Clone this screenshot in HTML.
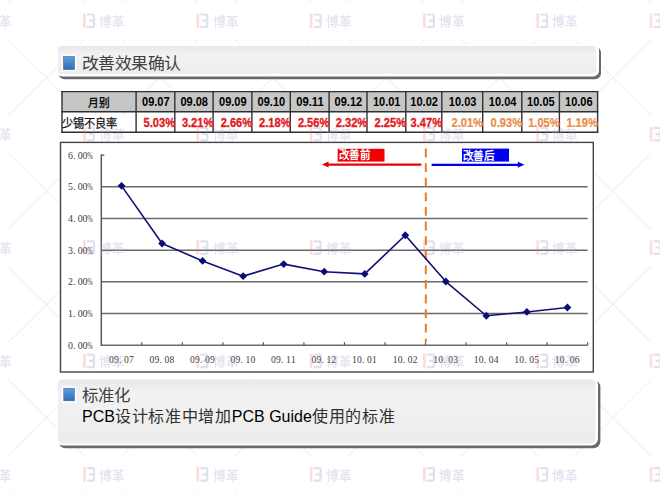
<!DOCTYPE html>
<html lang="zh-CN"><head><meta charset="utf-8">
<style>
html,body{margin:0;padding:0;background:#fff;width:660px;height:495px;overflow:hidden}
svg{position:absolute;left:0;top:0}
.sans{font-family:"Liberation Sans",sans-serif}
.serif{font-family:"Liberation Serif",serif}
.mono{font-family:"Liberation Mono",monospace}
</style></head><body>
<svg width="660" height="495" viewBox="0 0 660 495">
<defs>
<linearGradient id="gbox" x1="0" y1="0" x2="0" y2="1">
<stop offset="0" stop-color="#e8e8e8"/>
<stop offset="0.3" stop-color="#f2f2f2"/>
<stop offset="1" stop-color="#ececec"/>
</linearGradient>
<linearGradient id="gbox2" x1="0" y1="0" x2="0" y2="1">
<stop offset="0" stop-color="#e8e8e8"/>
<stop offset="0.2" stop-color="#f2f2f2"/>
<stop offset="1" stop-color="#ececec"/>
</linearGradient>
<linearGradient id="gblue" x1="0" y1="0" x2="0" y2="1">
<stop offset="0" stop-color="#5f9fdc"/>
<stop offset="1" stop-color="#2f6cb4"/>
</linearGradient>
<filter id="blur1" x="-5%" y="-20%" width="110%" height="140%"><feGaussianBlur stdDeviation="0.7"/></filter>
</defs>

<path d="M8.4 -73.7L84.3 2.3M8.4 2.3L84.3 -73.7M121.7 -73.7L197.7 2.3M121.7 2.3L197.7 -73.7M234.9 -73.7L310.9 2.3M234.9 2.3L310.9 -73.7M348.2 -73.7L424.2 2.3M348.2 2.3L424.2 -73.7M461.5 -73.7L537.5 2.3M461.5 2.3L537.5 -73.7M574.9 -73.7L650.9 2.3M574.9 2.3L650.9 -73.7M688.1 -73.7L764.1 2.3M688.1 2.3L764.1 -73.7M801.4 -73.7L877.4 2.3M801.4 2.3L877.4 -73.7M8.4 39.7L84.3 115.7M8.4 115.7L84.3 39.7M121.7 39.7L197.7 115.7M121.7 115.7L197.7 39.7M234.9 39.7L310.9 115.7M234.9 115.7L310.9 39.7M348.2 39.7L424.2 115.7M348.2 115.7L424.2 39.7M461.5 39.7L537.5 115.7M461.5 115.7L537.5 39.7M574.9 39.7L650.9 115.7M574.9 115.7L650.9 39.7M688.1 39.7L764.1 115.7M688.1 115.7L764.1 39.7M801.4 39.7L877.4 115.7M801.4 115.7L877.4 39.7M8.4 153.1L84.3 229.1M8.4 229.1L84.3 153.1M121.7 153.1L197.7 229.1M121.7 229.1L197.7 153.1M234.9 153.1L310.9 229.1M234.9 229.1L310.9 153.1M348.2 153.1L424.2 229.1M348.2 229.1L424.2 153.1M461.5 153.1L537.5 229.1M461.5 229.1L537.5 153.1M574.9 153.1L650.9 229.1M574.9 229.1L650.9 153.1M688.1 153.1L764.1 229.1M688.1 229.1L764.1 153.1M801.4 153.1L877.4 229.1M801.4 229.1L877.4 153.1M8.4 266.5L84.3 342.5M8.4 342.5L84.3 266.5M121.7 266.5L197.7 342.5M121.7 342.5L197.7 266.5M234.9 266.5L310.9 342.5M234.9 342.5L310.9 266.5M348.2 266.5L424.2 342.5M348.2 342.5L424.2 266.5M461.5 266.5L537.5 342.5M461.5 342.5L537.5 266.5M574.9 266.5L650.9 342.5M574.9 342.5L650.9 266.5M688.1 266.5L764.1 342.5M688.1 342.5L764.1 266.5M801.4 266.5L877.4 342.5M801.4 342.5L877.4 266.5M8.4 379.9L84.3 455.9M8.4 455.9L84.3 379.9M121.7 379.9L197.7 455.9M121.7 455.9L197.7 379.9M234.9 379.9L310.9 455.9M234.9 455.9L310.9 379.9M348.2 379.9L424.2 455.9M348.2 455.9L424.2 379.9M461.5 379.9L537.5 455.9M461.5 455.9L537.5 379.9M574.9 379.9L650.9 455.9M574.9 455.9L650.9 379.9M688.1 379.9L764.1 455.9M688.1 455.9L764.1 379.9M801.4 379.9L877.4 455.9M801.4 455.9L877.4 379.9M8.4 493.3L84.3 569.3M8.4 569.3L84.3 493.3M121.7 493.3L197.7 569.3M121.7 569.3L197.7 493.3M234.9 493.3L310.9 569.3M234.9 569.3L310.9 493.3M348.2 493.3L424.2 569.3M348.2 569.3L424.2 493.3M461.5 493.3L537.5 569.3M461.5 569.3L537.5 493.3M574.9 493.3L650.9 569.3M574.9 569.3L650.9 493.3M688.1 493.3L764.1 569.3M688.1 569.3L764.1 493.3M801.4 493.3L877.4 569.3M801.4 569.3L877.4 493.3M8.4 606.7L84.3 682.7M8.4 682.7L84.3 606.7M121.7 606.7L197.7 682.7M121.7 682.7L197.7 606.7M234.9 606.7L310.9 682.7M234.9 682.7L310.9 606.7M348.2 606.7L424.2 682.7M348.2 682.7L424.2 606.7M461.5 606.7L537.5 682.7M461.5 682.7L537.5 606.7M574.9 606.7L650.9 682.7M574.9 682.7L650.9 606.7M688.1 606.7L764.1 682.7M688.1 682.7L764.1 606.7M801.4 606.7L877.4 682.7M801.4 682.7L877.4 606.7" stroke="#f1f1f1" stroke-width="1.2" fill="none"/>
<rect x="58.4" y="46.8" width="542.6" height="32.5" rx="6" fill="#6a6a6a" filter="url(#blur1)"/>
<rect x="56" y="44" width="543" height="32.5" rx="6" fill="#ffffff"/>
<rect x="57.8" y="46" width="538.5" height="27.8" rx="4" fill="url(#gbox)"/>
<rect x="61.6" y="54.6" width="14.8" height="16.6" rx="1" fill="#ffffff" opacity="0.85"/>
<rect x="63.5" y="56.5" width="11" height="13" fill="url(#gblue)" stroke="#3a6aa5" stroke-width="0.6"/>
<text x="82" y="68.8" class="sans" font-size="16.4" fill="#404040" textLength="98.5" lengthAdjust="spacingAndGlyphs">改善效果确认</text>
<rect x="62" y="91.6" width="535.6" height="20.200000000000003" fill="#c6c6c6"/>
<line x1="62" y1="90.89999999999999" x2="62" y2="132.89999999999998" stroke="#303030" stroke-width="1.4"/>
<line x1="136.1" y1="90.89999999999999" x2="136.1" y2="132.89999999999998" stroke="#303030" stroke-width="1.4"/>
<line x1="174.8" y1="90.89999999999999" x2="174.8" y2="132.89999999999998" stroke="#303030" stroke-width="1.4"/>
<line x1="213.1" y1="90.89999999999999" x2="213.1" y2="132.89999999999998" stroke="#303030" stroke-width="1.4"/>
<line x1="251.9" y1="90.89999999999999" x2="251.9" y2="132.89999999999998" stroke="#303030" stroke-width="1.4"/>
<line x1="290.3" y1="90.89999999999999" x2="290.3" y2="132.89999999999998" stroke="#303030" stroke-width="1.4"/>
<line x1="329.1" y1="90.89999999999999" x2="329.1" y2="132.89999999999998" stroke="#303030" stroke-width="1.4"/>
<line x1="367" y1="90.89999999999999" x2="367" y2="132.89999999999998" stroke="#303030" stroke-width="1.4"/>
<line x1="405.8" y1="90.89999999999999" x2="405.8" y2="132.89999999999998" stroke="#303030" stroke-width="1.4"/>
<line x1="441.8" y1="90.89999999999999" x2="441.8" y2="132.89999999999998" stroke="#303030" stroke-width="1.4"/>
<line x1="482.7" y1="90.89999999999999" x2="482.7" y2="132.89999999999998" stroke="#303030" stroke-width="1.4"/>
<line x1="521.8" y1="90.89999999999999" x2="521.8" y2="132.89999999999998" stroke="#303030" stroke-width="1.4"/>
<line x1="559.4" y1="90.89999999999999" x2="559.4" y2="132.89999999999998" stroke="#303030" stroke-width="1.4"/>
<line x1="597.6" y1="90.89999999999999" x2="597.6" y2="132.89999999999998" stroke="#303030" stroke-width="1.4"/>
<line x1="61.3" y1="91.6" x2="598.3000000000001" y2="91.6" stroke="#303030" stroke-width="1.4"/>
<line x1="61.3" y1="111.8" x2="598.3000000000001" y2="111.8" stroke="#303030" stroke-width="1.4"/>
<line x1="61.3" y1="132.2" x2="598.3000000000001" y2="132.2" stroke="#303030" stroke-width="1.4"/>
<text x="88.2" y="106.5" class="sans" font-size="11" font-weight="bold" fill="#111" textLength="21.3" lengthAdjust="spacingAndGlyphs">月别</text>
<text x="62.4" y="127.6" class="sans" font-size="12.2" fill="#111" stroke="#111" stroke-width="0.25" textLength="55" lengthAdjust="spacingAndGlyphs">少锡不良率</text>
<text x="155.8" y="106.4" text-anchor="middle" class="sans" font-size="12" font-weight="bold" fill="#000" textLength="27.6" lengthAdjust="spacingAndGlyphs">09.07</text>
<text x="143.6" y="127" class="sans" font-size="13" font-weight="bold" fill="#e01a20" stroke="#e01a20" stroke-width="0.35" textLength="31.4" lengthAdjust="spacingAndGlyphs">5.03%</text>
<text x="194.2" y="106.4" text-anchor="middle" class="sans" font-size="12" font-weight="bold" fill="#000" textLength="27.6" lengthAdjust="spacingAndGlyphs">09.08</text>
<text x="181.9" y="127" class="sans" font-size="13" font-weight="bold" fill="#e01a20" stroke="#e01a20" stroke-width="0.35" textLength="31.4" lengthAdjust="spacingAndGlyphs">3.21%</text>
<text x="232.8" y="106.4" text-anchor="middle" class="sans" font-size="12" font-weight="bold" fill="#000" textLength="27.6" lengthAdjust="spacingAndGlyphs">09.09</text>
<text x="220.7" y="127" class="sans" font-size="13" font-weight="bold" fill="#e01a20" stroke="#e01a20" stroke-width="0.35" textLength="31.4" lengthAdjust="spacingAndGlyphs">2.66%</text>
<text x="271.4" y="106.4" text-anchor="middle" class="sans" font-size="12" font-weight="bold" fill="#000" textLength="27.6" lengthAdjust="spacingAndGlyphs">09.10</text>
<text x="259.1" y="127" class="sans" font-size="13" font-weight="bold" fill="#e01a20" stroke="#e01a20" stroke-width="0.35" textLength="31.4" lengthAdjust="spacingAndGlyphs">2.18%</text>
<text x="310.0" y="106.4" text-anchor="middle" class="sans" font-size="12" font-weight="bold" fill="#000" textLength="27.6" lengthAdjust="spacingAndGlyphs">09.11</text>
<text x="297.9" y="127" class="sans" font-size="13" font-weight="bold" fill="#e01a20" stroke="#e01a20" stroke-width="0.35" textLength="31.4" lengthAdjust="spacingAndGlyphs">2.56%</text>
<text x="348.4" y="106.4" text-anchor="middle" class="sans" font-size="12" font-weight="bold" fill="#000" textLength="27.6" lengthAdjust="spacingAndGlyphs">09.12</text>
<text x="335.8" y="127" class="sans" font-size="13" font-weight="bold" fill="#e01a20" stroke="#e01a20" stroke-width="0.35" textLength="31.4" lengthAdjust="spacingAndGlyphs">2.32%</text>
<text x="386.7" y="106.4" text-anchor="middle" class="sans" font-size="12" font-weight="bold" fill="#000" textLength="27.6" lengthAdjust="spacingAndGlyphs">10.01</text>
<text x="374.6" y="127" class="sans" font-size="13" font-weight="bold" fill="#e01a20" stroke="#e01a20" stroke-width="0.35" textLength="31.4" lengthAdjust="spacingAndGlyphs">2.25%</text>
<text x="424.1" y="106.4" text-anchor="middle" class="sans" font-size="12" font-weight="bold" fill="#000" textLength="27.6" lengthAdjust="spacingAndGlyphs">10.02</text>
<text x="410.6" y="127" class="sans" font-size="13" font-weight="bold" fill="#e01a20" stroke="#e01a20" stroke-width="0.35" textLength="31.4" lengthAdjust="spacingAndGlyphs">3.47%</text>
<text x="462.6" y="106.4" text-anchor="middle" class="sans" font-size="12" font-weight="bold" fill="#000" textLength="27.6" lengthAdjust="spacingAndGlyphs">10.03</text>
<text x="451.5" y="127" class="sans" font-size="13" font-weight="bold" fill="#e88c48" stroke="#e88c48" stroke-width="0.2" textLength="31.4" lengthAdjust="spacingAndGlyphs">2.01%</text>
<text x="502.6" y="106.4" text-anchor="middle" class="sans" font-size="12" font-weight="bold" fill="#000" textLength="27.6" lengthAdjust="spacingAndGlyphs">10.04</text>
<text x="490.6" y="127" class="sans" font-size="13" font-weight="bold" fill="#e88c48" stroke="#e88c48" stroke-width="0.2" textLength="31.4" lengthAdjust="spacingAndGlyphs">0.93%</text>
<text x="540.9" y="106.4" text-anchor="middle" class="sans" font-size="12" font-weight="bold" fill="#000" textLength="27.6" lengthAdjust="spacingAndGlyphs">10.05</text>
<text x="528.2" y="127" class="sans" font-size="13" font-weight="bold" fill="#e88c48" stroke="#e88c48" stroke-width="0.2" textLength="31.4" lengthAdjust="spacingAndGlyphs">1.05%</text>
<text x="578.8" y="106.4" text-anchor="middle" class="sans" font-size="12" font-weight="bold" fill="#000" textLength="27.6" lengthAdjust="spacingAndGlyphs">10.06</text>
<text x="566.4" y="127" class="sans" font-size="13" font-weight="bold" fill="#e88c48" stroke="#e88c48" stroke-width="0.2" textLength="31.4" lengthAdjust="spacingAndGlyphs">1.19%</text>
<rect x="60.5" y="142.4" width="532.8" height="229.6" fill="#fff" stroke="#444" stroke-width="1.4"/>
<line x1="101.3" y1="345.20" x2="587.66" y2="345.20" stroke="#6a6a6a" stroke-width="1.5"/>
<line x1="101.3" y1="313.52" x2="587.66" y2="313.52" stroke="#6a6a6a" stroke-width="1.5"/>
<line x1="101.3" y1="281.84" x2="587.66" y2="281.84" stroke="#6a6a6a" stroke-width="1.5"/>
<line x1="101.3" y1="250.16" x2="587.66" y2="250.16" stroke="#6a6a6a" stroke-width="1.5"/>
<line x1="101.3" y1="218.48" x2="587.66" y2="218.48" stroke="#6a6a6a" stroke-width="1.5"/>
<line x1="101.3" y1="186.80" x2="587.66" y2="186.80" stroke="#6a6a6a" stroke-width="1.5"/>
<line x1="101.3" y1="155.12" x2="104.3" y2="155.12" stroke="#6a6a6a" stroke-width="1.5"/>
<line x1="101.3" y1="154.37" x2="101.3" y2="345.95" stroke="#5a5a5a" stroke-width="1.5"/>
<line x1="141.83" y1="342.20" x2="141.83" y2="345.20" stroke="#5a5a5a" stroke-width="1.2"/>
<line x1="182.36" y1="342.20" x2="182.36" y2="345.20" stroke="#5a5a5a" stroke-width="1.2"/>
<line x1="222.89" y1="342.20" x2="222.89" y2="345.20" stroke="#5a5a5a" stroke-width="1.2"/>
<line x1="263.42" y1="342.20" x2="263.42" y2="345.20" stroke="#5a5a5a" stroke-width="1.2"/>
<line x1="303.95" y1="342.20" x2="303.95" y2="345.20" stroke="#5a5a5a" stroke-width="1.2"/>
<line x1="344.48" y1="342.20" x2="344.48" y2="345.20" stroke="#5a5a5a" stroke-width="1.2"/>
<line x1="385.01" y1="342.20" x2="385.01" y2="345.20" stroke="#5a5a5a" stroke-width="1.2"/>
<line x1="425.54" y1="342.20" x2="425.54" y2="345.20" stroke="#5a5a5a" stroke-width="1.2"/>
<line x1="466.07" y1="342.20" x2="466.07" y2="345.20" stroke="#5a5a5a" stroke-width="1.2"/>
<line x1="506.60" y1="342.20" x2="506.60" y2="345.20" stroke="#5a5a5a" stroke-width="1.2"/>
<line x1="547.13" y1="342.20" x2="547.13" y2="345.20" stroke="#5a5a5a" stroke-width="1.2"/>
<line x1="587.66" y1="342.20" x2="587.66" y2="345.20" stroke="#5a5a5a" stroke-width="1.2"/>
<text x="68.1 73.0 77.8 82.6" y="348.80" class="serif" font-size="9.9" fill="#3c3c3c">0.00</text>
<text transform="translate(87.2,348.80) scale(0.66,1)" class="serif" font-size="9.9" fill="#3c3c3c">%</text>
<text x="68.1 73.0 77.8 82.6" y="317.12" class="serif" font-size="9.9" fill="#3c3c3c">1.00</text>
<text transform="translate(87.2,317.12) scale(0.66,1)" class="serif" font-size="9.9" fill="#3c3c3c">%</text>
<text x="68.1 73.0 77.8 82.6" y="285.44" class="serif" font-size="9.9" fill="#3c3c3c">2.00</text>
<text transform="translate(87.2,285.44) scale(0.66,1)" class="serif" font-size="9.9" fill="#3c3c3c">%</text>
<text x="68.1 73.0 77.8 82.6" y="253.76" class="serif" font-size="9.9" fill="#3c3c3c">3.00</text>
<text transform="translate(87.2,253.76) scale(0.66,1)" class="serif" font-size="9.9" fill="#3c3c3c">%</text>
<text x="68.1 73.0 77.8 82.6" y="222.08" class="serif" font-size="9.9" fill="#3c3c3c">4.00</text>
<text transform="translate(87.2,222.08) scale(0.66,1)" class="serif" font-size="9.9" fill="#3c3c3c">%</text>
<text x="68.1 73.0 77.8 82.6" y="190.40" class="serif" font-size="9.9" fill="#3c3c3c">5.00</text>
<text transform="translate(87.2,190.40) scale(0.66,1)" class="serif" font-size="9.9" fill="#3c3c3c">%</text>
<text x="68.1 73.0 77.8 82.6" y="158.72" class="serif" font-size="9.9" fill="#3c3c3c">6.00</text>
<text transform="translate(87.2,158.72) scale(0.66,1)" class="serif" font-size="9.9" fill="#3c3c3c">%</text>
<text x="109.0 114.0 119.0 124.0 129.0" y="362.8" class="serif" font-size="9.6" fill="#3c3c3c">09.07</text>
<text x="149.5 154.5 159.5 164.5 169.5" y="362.8" class="serif" font-size="9.6" fill="#3c3c3c">09.08</text>
<text x="190.0 195.0 200.0 205.0 210.0" y="362.8" class="serif" font-size="9.6" fill="#3c3c3c">09.09</text>
<text x="230.6 235.6 240.6 245.6 250.6" y="362.8" class="serif" font-size="9.6" fill="#3c3c3c">09.10</text>
<text x="271.1 276.1 281.1 286.1 291.1" y="362.8" class="serif" font-size="9.6" fill="#3c3c3c">09.11</text>
<text x="311.6 316.6 321.6 326.6 331.6" y="362.8" class="serif" font-size="9.6" fill="#3c3c3c">09.12</text>
<text x="352.1 357.1 362.1 367.1 372.1" y="362.8" class="serif" font-size="9.6" fill="#3c3c3c">10.01</text>
<text x="392.7 397.7 402.7 407.7 412.7" y="362.8" class="serif" font-size="9.6" fill="#3c3c3c">10.02</text>
<text x="433.2 438.2 443.2 448.2 453.2" y="362.8" class="serif" font-size="9.6" fill="#3c3c3c">10.03</text>
<text x="473.7 478.7 483.7 488.7 493.7" y="362.8" class="serif" font-size="9.6" fill="#3c3c3c">10.04</text>
<text x="514.3 519.3 524.3 529.3 534.3" y="362.8" class="serif" font-size="9.6" fill="#3c3c3c">10.05</text>
<text x="554.8 559.8 564.8 569.8 574.8" y="362.8" class="serif" font-size="9.6" fill="#3c3c3c">10.06</text>
<line x1="425.8" y1="148.6" x2="425.8" y2="342" stroke="#f07a1a" stroke-width="2" stroke-dasharray="8.8 5.8"/>
<rect x="337.7" y="148.8" width="46.8" height="12.8" fill="#f00000"/>
<text x="338.6" y="159.4" class="sans" font-size="11" font-weight="bold" fill="#fff" textLength="31.4" lengthAdjust="spacingAndGlyphs">改善前</text>
<line x1="327" y1="164.6" x2="421.3" y2="164.6" stroke="#e8000a" stroke-width="2.2"/>
<path d="M322 164.6 L328.5 161.6 L328.5 167.6 Z" fill="#e8000a"/>
<rect x="462" y="148.6" width="47" height="13" fill="#0000f0"/>
<text x="462.6" y="159.5" class="sans" font-size="11" font-weight="bold" fill="#fff" textLength="31.8" lengthAdjust="spacingAndGlyphs">改善后</text>
<line x1="431.6" y1="164.8" x2="519" y2="164.8" stroke="#0000e8" stroke-width="2.2"/>
<path d="M524.4 164.8 L517.8 161.8 L517.8 167.8 Z" fill="#0000e8"/>
<polyline points="121.56,185.85 162.09,243.51 202.62,260.93 243.16,276.14 283.69,264.10 324.22,271.70 364.75,273.92 405.28,235.27 445.81,281.52 486.34,315.74 526.87,311.94 567.39,307.50" fill="none" stroke="#101078" stroke-width="1.6" stroke-linejoin="round"/>
<path d="M121.56 181.95L125.47 185.85L121.56 189.75L117.66 185.85Z" fill="#0c0c78"/>
<path d="M162.09 239.61L166.00 243.51L162.09 247.41L158.19 243.51Z" fill="#0c0c78"/>
<path d="M202.62 257.03L206.53 260.93L202.62 264.83L198.72 260.93Z" fill="#0c0c78"/>
<path d="M243.16 272.24L247.06 276.14L243.16 280.04L239.26 276.14Z" fill="#0c0c78"/>
<path d="M283.69 260.20L287.58 264.10L283.69 268.00L279.79 264.10Z" fill="#0c0c78"/>
<path d="M324.22 267.80L328.12 271.70L324.22 275.60L320.32 271.70Z" fill="#0c0c78"/>
<path d="M364.75 270.02L368.64 273.92L364.75 277.82L360.85 273.92Z" fill="#0c0c78"/>
<path d="M405.28 231.37L409.18 235.27L405.28 239.17L401.38 235.27Z" fill="#0c0c78"/>
<path d="M445.81 277.62L449.70 281.52L445.81 285.42L441.91 281.52Z" fill="#0c0c78"/>
<path d="M486.34 311.84L490.24 315.74L486.34 319.64L482.44 315.74Z" fill="#0c0c78"/>
<path d="M526.87 308.04L530.76 311.94L526.87 315.84L522.97 311.94Z" fill="#0c0c78"/>
<path d="M567.39 303.60L571.29 307.50L567.39 311.40L563.50 307.50Z" fill="#0c0c78"/>
<rect x="58.6" y="380.1" width="541.8" height="68.2" rx="7" fill="#6a6a6a" filter="url(#blur1)"/>
<rect x="56" y="377.4" width="542" height="68.2" rx="7" fill="#ffffff"/>
<rect x="57.9" y="379.4" width="537.6" height="64" rx="5" fill="url(#gbox2)"/>
<rect x="61.8" y="386.4" width="14.6" height="16.4" rx="1" fill="#ffffff" opacity="0.85"/>
<rect x="63.8" y="388.3" width="10.6" height="12.5" fill="url(#gblue)" stroke="#3a6aa5" stroke-width="0.6"/>
<text x="82" y="400.6" class="sans" font-size="16.4" fill="#404040" textLength="48" lengthAdjust="spacingAndGlyphs">标准化</text>
<text x="82" y="421.8" class="sans" font-size="16" fill="#000">PCB<tspan letter-spacing="0.7" fill="#303030">设计标准中增加</tspan>PCB Guide<tspan letter-spacing="0.8" fill="#303030">使用的标准</tspan></text>
<g><rect x="-30.1" y="-99.9" width="2.6" height="14.5" fill="#f07070" opacity="0.24"/><path d="M-26.3 -98.9H-20.8Q-19.3 -98.9 -19.3 -96.9V-88.4Q-19.3 -86.4 -20.8 -86.4H-26.3M-24.3 -92.7H-20.3" fill="none" stroke="#8c8cc4" stroke-width="2.2" opacity="0.27"/><text x="-14.1" y="-87.5" class="sans" font-size="12.6" fill="#a0a0c8" stroke="#a0a0c8" stroke-width="0.3" opacity="0.28" textLength="26" lengthAdjust="spacingAndGlyphs">博革</text><rect x="83.2" y="-99.9" width="2.6" height="14.5" fill="#f07070" opacity="0.24"/><path d="M87.0 -98.9H92.5Q94.0 -98.9 94.0 -96.9V-88.4Q94.0 -86.4 92.5 -86.4H87.0M89.0 -92.7H93.0" fill="none" stroke="#8c8cc4" stroke-width="2.2" opacity="0.27"/><text x="99.2" y="-87.5" class="sans" font-size="12.6" fill="#a0a0c8" stroke="#a0a0c8" stroke-width="0.3" opacity="0.28" textLength="26" lengthAdjust="spacingAndGlyphs">博革</text><rect x="196.5" y="-99.9" width="2.6" height="14.5" fill="#f07070" opacity="0.24"/><path d="M200.3 -98.9H205.8Q207.3 -98.9 207.3 -96.9V-88.4Q207.3 -86.4 205.8 -86.4H200.3M202.3 -92.7H206.3" fill="none" stroke="#8c8cc4" stroke-width="2.2" opacity="0.27"/><text x="212.5" y="-87.5" class="sans" font-size="12.6" fill="#a0a0c8" stroke="#a0a0c8" stroke-width="0.3" opacity="0.28" textLength="26" lengthAdjust="spacingAndGlyphs">博革</text><rect x="309.8" y="-99.9" width="2.6" height="14.5" fill="#f07070" opacity="0.24"/><path d="M313.6 -98.9H319.1Q320.6 -98.9 320.6 -96.9V-88.4Q320.6 -86.4 319.1 -86.4H313.6M315.6 -92.7H319.6" fill="none" stroke="#8c8cc4" stroke-width="2.2" opacity="0.27"/><text x="325.8" y="-87.5" class="sans" font-size="12.6" fill="#a0a0c8" stroke="#a0a0c8" stroke-width="0.3" opacity="0.28" textLength="26" lengthAdjust="spacingAndGlyphs">博革</text><rect x="423.1" y="-99.9" width="2.6" height="14.5" fill="#f07070" opacity="0.24"/><path d="M426.9 -98.9H432.4Q433.9 -98.9 433.9 -96.9V-88.4Q433.9 -86.4 432.4 -86.4H426.9M428.9 -92.7H432.9" fill="none" stroke="#8c8cc4" stroke-width="2.2" opacity="0.27"/><text x="439.1" y="-87.5" class="sans" font-size="12.6" fill="#a0a0c8" stroke="#a0a0c8" stroke-width="0.3" opacity="0.28" textLength="26" lengthAdjust="spacingAndGlyphs">博革</text><rect x="536.4" y="-99.9" width="2.6" height="14.5" fill="#f07070" opacity="0.24"/><path d="M540.2 -98.9H545.7Q547.2 -98.9 547.2 -96.9V-88.4Q547.2 -86.4 545.7 -86.4H540.2M542.2 -92.7H546.2" fill="none" stroke="#8c8cc4" stroke-width="2.2" opacity="0.27"/><text x="552.4" y="-87.5" class="sans" font-size="12.6" fill="#a0a0c8" stroke="#a0a0c8" stroke-width="0.3" opacity="0.28" textLength="26" lengthAdjust="spacingAndGlyphs">博革</text><rect x="649.7" y="-99.9" width="2.6" height="14.5" fill="#f07070" opacity="0.24"/><path d="M653.5 -98.9H659.0Q660.5 -98.9 660.5 -96.9V-88.4Q660.5 -86.4 659.0 -86.4H653.5M655.5 -92.7H659.5" fill="none" stroke="#8c8cc4" stroke-width="2.2" opacity="0.27"/><text x="665.7" y="-87.5" class="sans" font-size="12.6" fill="#a0a0c8" stroke="#a0a0c8" stroke-width="0.3" opacity="0.28" textLength="26" lengthAdjust="spacingAndGlyphs">博革</text><rect x="763.0" y="-99.9" width="2.6" height="14.5" fill="#f07070" opacity="0.24"/><path d="M766.8 -98.9H772.3Q773.8 -98.9 773.8 -96.9V-88.4Q773.8 -86.4 772.3 -86.4H766.8M768.8 -92.7H772.8" fill="none" stroke="#8c8cc4" stroke-width="2.2" opacity="0.27"/><text x="779.0" y="-87.5" class="sans" font-size="12.6" fill="#a0a0c8" stroke="#a0a0c8" stroke-width="0.3" opacity="0.28" textLength="26" lengthAdjust="spacingAndGlyphs">博革</text><rect x="-30.1" y="13.5" width="2.6" height="14.5" fill="#f07070" opacity="0.24"/><path d="M-26.3 14.5H-20.8Q-19.3 14.5 -19.3 16.5V25.0Q-19.3 27.0 -20.8 27.0H-26.3M-24.3 20.7H-20.3" fill="none" stroke="#8c8cc4" stroke-width="2.2" opacity="0.27"/><text x="-14.1" y="25.9" class="sans" font-size="12.6" fill="#a0a0c8" stroke="#a0a0c8" stroke-width="0.3" opacity="0.28" textLength="26" lengthAdjust="spacingAndGlyphs">博革</text><rect x="83.2" y="13.5" width="2.6" height="14.5" fill="#f07070" opacity="0.24"/><path d="M87.0 14.5H92.5Q94.0 14.5 94.0 16.5V25.0Q94.0 27.0 92.5 27.0H87.0M89.0 20.7H93.0" fill="none" stroke="#8c8cc4" stroke-width="2.2" opacity="0.27"/><text x="99.2" y="25.9" class="sans" font-size="12.6" fill="#a0a0c8" stroke="#a0a0c8" stroke-width="0.3" opacity="0.28" textLength="26" lengthAdjust="spacingAndGlyphs">博革</text><rect x="196.5" y="13.5" width="2.6" height="14.5" fill="#f07070" opacity="0.24"/><path d="M200.3 14.5H205.8Q207.3 14.5 207.3 16.5V25.0Q207.3 27.0 205.8 27.0H200.3M202.3 20.7H206.3" fill="none" stroke="#8c8cc4" stroke-width="2.2" opacity="0.27"/><text x="212.5" y="25.9" class="sans" font-size="12.6" fill="#a0a0c8" stroke="#a0a0c8" stroke-width="0.3" opacity="0.28" textLength="26" lengthAdjust="spacingAndGlyphs">博革</text><rect x="309.8" y="13.5" width="2.6" height="14.5" fill="#f07070" opacity="0.24"/><path d="M313.6 14.5H319.1Q320.6 14.5 320.6 16.5V25.0Q320.6 27.0 319.1 27.0H313.6M315.6 20.7H319.6" fill="none" stroke="#8c8cc4" stroke-width="2.2" opacity="0.27"/><text x="325.8" y="25.9" class="sans" font-size="12.6" fill="#a0a0c8" stroke="#a0a0c8" stroke-width="0.3" opacity="0.28" textLength="26" lengthAdjust="spacingAndGlyphs">博革</text><rect x="423.1" y="13.5" width="2.6" height="14.5" fill="#f07070" opacity="0.24"/><path d="M426.9 14.5H432.4Q433.9 14.5 433.9 16.5V25.0Q433.9 27.0 432.4 27.0H426.9M428.9 20.7H432.9" fill="none" stroke="#8c8cc4" stroke-width="2.2" opacity="0.27"/><text x="439.1" y="25.9" class="sans" font-size="12.6" fill="#a0a0c8" stroke="#a0a0c8" stroke-width="0.3" opacity="0.28" textLength="26" lengthAdjust="spacingAndGlyphs">博革</text><rect x="536.4" y="13.5" width="2.6" height="14.5" fill="#f07070" opacity="0.24"/><path d="M540.2 14.5H545.7Q547.2 14.5 547.2 16.5V25.0Q547.2 27.0 545.7 27.0H540.2M542.2 20.7H546.2" fill="none" stroke="#8c8cc4" stroke-width="2.2" opacity="0.27"/><text x="552.4" y="25.9" class="sans" font-size="12.6" fill="#a0a0c8" stroke="#a0a0c8" stroke-width="0.3" opacity="0.28" textLength="26" lengthAdjust="spacingAndGlyphs">博革</text><rect x="649.7" y="13.5" width="2.6" height="14.5" fill="#f07070" opacity="0.24"/><path d="M653.5 14.5H659.0Q660.5 14.5 660.5 16.5V25.0Q660.5 27.0 659.0 27.0H653.5M655.5 20.7H659.5" fill="none" stroke="#8c8cc4" stroke-width="2.2" opacity="0.27"/><text x="665.7" y="25.9" class="sans" font-size="12.6" fill="#a0a0c8" stroke="#a0a0c8" stroke-width="0.3" opacity="0.28" textLength="26" lengthAdjust="spacingAndGlyphs">博革</text><rect x="763.0" y="13.5" width="2.6" height="14.5" fill="#f07070" opacity="0.24"/><path d="M766.8 14.5H772.3Q773.8 14.5 773.8 16.5V25.0Q773.8 27.0 772.3 27.0H766.8M768.8 20.7H772.8" fill="none" stroke="#8c8cc4" stroke-width="2.2" opacity="0.27"/><text x="779.0" y="25.9" class="sans" font-size="12.6" fill="#a0a0c8" stroke="#a0a0c8" stroke-width="0.3" opacity="0.28" textLength="26" lengthAdjust="spacingAndGlyphs">博革</text><rect x="-30.1" y="126.9" width="2.6" height="14.5" fill="#f07070" opacity="0.24"/><path d="M-26.3 127.9H-20.8Q-19.3 127.9 -19.3 129.9V138.4Q-19.3 140.4 -20.8 140.4H-26.3M-24.3 134.1H-20.3" fill="none" stroke="#8c8cc4" stroke-width="2.2" opacity="0.27"/><text x="-14.1" y="139.3" class="sans" font-size="12.6" fill="#a0a0c8" stroke="#a0a0c8" stroke-width="0.3" opacity="0.28" textLength="26" lengthAdjust="spacingAndGlyphs">博革</text><rect x="83.2" y="126.9" width="2.6" height="14.5" fill="#f07070" opacity="0.24"/><path d="M87.0 127.9H92.5Q94.0 127.9 94.0 129.9V138.4Q94.0 140.4 92.5 140.4H87.0M89.0 134.1H93.0" fill="none" stroke="#8c8cc4" stroke-width="2.2" opacity="0.27"/><text x="99.2" y="139.3" class="sans" font-size="12.6" fill="#a0a0c8" stroke="#a0a0c8" stroke-width="0.3" opacity="0.28" textLength="26" lengthAdjust="spacingAndGlyphs">博革</text><rect x="196.5" y="126.9" width="2.6" height="14.5" fill="#f07070" opacity="0.24"/><path d="M200.3 127.9H205.8Q207.3 127.9 207.3 129.9V138.4Q207.3 140.4 205.8 140.4H200.3M202.3 134.1H206.3" fill="none" stroke="#8c8cc4" stroke-width="2.2" opacity="0.27"/><text x="212.5" y="139.3" class="sans" font-size="12.6" fill="#a0a0c8" stroke="#a0a0c8" stroke-width="0.3" opacity="0.28" textLength="26" lengthAdjust="spacingAndGlyphs">博革</text><rect x="309.8" y="126.9" width="2.6" height="14.5" fill="#f07070" opacity="0.24"/><path d="M313.6 127.9H319.1Q320.6 127.9 320.6 129.9V138.4Q320.6 140.4 319.1 140.4H313.6M315.6 134.1H319.6" fill="none" stroke="#8c8cc4" stroke-width="2.2" opacity="0.27"/><text x="325.8" y="139.3" class="sans" font-size="12.6" fill="#a0a0c8" stroke="#a0a0c8" stroke-width="0.3" opacity="0.28" textLength="26" lengthAdjust="spacingAndGlyphs">博革</text><rect x="423.1" y="126.9" width="2.6" height="14.5" fill="#f07070" opacity="0.24"/><path d="M426.9 127.9H432.4Q433.9 127.9 433.9 129.9V138.4Q433.9 140.4 432.4 140.4H426.9M428.9 134.1H432.9" fill="none" stroke="#8c8cc4" stroke-width="2.2" opacity="0.27"/><text x="439.1" y="139.3" class="sans" font-size="12.6" fill="#a0a0c8" stroke="#a0a0c8" stroke-width="0.3" opacity="0.28" textLength="26" lengthAdjust="spacingAndGlyphs">博革</text><rect x="536.4" y="126.9" width="2.6" height="14.5" fill="#f07070" opacity="0.24"/><path d="M540.2 127.9H545.7Q547.2 127.9 547.2 129.9V138.4Q547.2 140.4 545.7 140.4H540.2M542.2 134.1H546.2" fill="none" stroke="#8c8cc4" stroke-width="2.2" opacity="0.27"/><text x="552.4" y="139.3" class="sans" font-size="12.6" fill="#a0a0c8" stroke="#a0a0c8" stroke-width="0.3" opacity="0.28" textLength="26" lengthAdjust="spacingAndGlyphs">博革</text><rect x="649.7" y="126.9" width="2.6" height="14.5" fill="#f07070" opacity="0.24"/><path d="M653.5 127.9H659.0Q660.5 127.9 660.5 129.9V138.4Q660.5 140.4 659.0 140.4H653.5M655.5 134.1H659.5" fill="none" stroke="#8c8cc4" stroke-width="2.2" opacity="0.27"/><text x="665.7" y="139.3" class="sans" font-size="12.6" fill="#a0a0c8" stroke="#a0a0c8" stroke-width="0.3" opacity="0.28" textLength="26" lengthAdjust="spacingAndGlyphs">博革</text><rect x="763.0" y="126.9" width="2.6" height="14.5" fill="#f07070" opacity="0.24"/><path d="M766.8 127.9H772.3Q773.8 127.9 773.8 129.9V138.4Q773.8 140.4 772.3 140.4H766.8M768.8 134.1H772.8" fill="none" stroke="#8c8cc4" stroke-width="2.2" opacity="0.27"/><text x="779.0" y="139.3" class="sans" font-size="12.6" fill="#a0a0c8" stroke="#a0a0c8" stroke-width="0.3" opacity="0.28" textLength="26" lengthAdjust="spacingAndGlyphs">博革</text><rect x="-30.1" y="240.3" width="2.6" height="14.5" fill="#f07070" opacity="0.24"/><path d="M-26.3 241.3H-20.8Q-19.3 241.3 -19.3 243.3V251.8Q-19.3 253.8 -20.8 253.8H-26.3M-24.3 247.5H-20.3" fill="none" stroke="#8c8cc4" stroke-width="2.2" opacity="0.27"/><text x="-14.1" y="252.7" class="sans" font-size="12.6" fill="#a0a0c8" stroke="#a0a0c8" stroke-width="0.3" opacity="0.28" textLength="26" lengthAdjust="spacingAndGlyphs">博革</text><rect x="83.2" y="240.3" width="2.6" height="14.5" fill="#f07070" opacity="0.24"/><path d="M87.0 241.3H92.5Q94.0 241.3 94.0 243.3V251.8Q94.0 253.8 92.5 253.8H87.0M89.0 247.5H93.0" fill="none" stroke="#8c8cc4" stroke-width="2.2" opacity="0.27"/><text x="99.2" y="252.7" class="sans" font-size="12.6" fill="#a0a0c8" stroke="#a0a0c8" stroke-width="0.3" opacity="0.28" textLength="26" lengthAdjust="spacingAndGlyphs">博革</text><rect x="196.5" y="240.3" width="2.6" height="14.5" fill="#f07070" opacity="0.24"/><path d="M200.3 241.3H205.8Q207.3 241.3 207.3 243.3V251.8Q207.3 253.8 205.8 253.8H200.3M202.3 247.5H206.3" fill="none" stroke="#8c8cc4" stroke-width="2.2" opacity="0.27"/><text x="212.5" y="252.7" class="sans" font-size="12.6" fill="#a0a0c8" stroke="#a0a0c8" stroke-width="0.3" opacity="0.28" textLength="26" lengthAdjust="spacingAndGlyphs">博革</text><rect x="309.8" y="240.3" width="2.6" height="14.5" fill="#f07070" opacity="0.24"/><path d="M313.6 241.3H319.1Q320.6 241.3 320.6 243.3V251.8Q320.6 253.8 319.1 253.8H313.6M315.6 247.5H319.6" fill="none" stroke="#8c8cc4" stroke-width="2.2" opacity="0.27"/><text x="325.8" y="252.7" class="sans" font-size="12.6" fill="#a0a0c8" stroke="#a0a0c8" stroke-width="0.3" opacity="0.28" textLength="26" lengthAdjust="spacingAndGlyphs">博革</text><rect x="423.1" y="240.3" width="2.6" height="14.5" fill="#f07070" opacity="0.24"/><path d="M426.9 241.3H432.4Q433.9 241.3 433.9 243.3V251.8Q433.9 253.8 432.4 253.8H426.9M428.9 247.5H432.9" fill="none" stroke="#8c8cc4" stroke-width="2.2" opacity="0.27"/><text x="439.1" y="252.7" class="sans" font-size="12.6" fill="#a0a0c8" stroke="#a0a0c8" stroke-width="0.3" opacity="0.28" textLength="26" lengthAdjust="spacingAndGlyphs">博革</text><rect x="536.4" y="240.3" width="2.6" height="14.5" fill="#f07070" opacity="0.24"/><path d="M540.2 241.3H545.7Q547.2 241.3 547.2 243.3V251.8Q547.2 253.8 545.7 253.8H540.2M542.2 247.5H546.2" fill="none" stroke="#8c8cc4" stroke-width="2.2" opacity="0.27"/><text x="552.4" y="252.7" class="sans" font-size="12.6" fill="#a0a0c8" stroke="#a0a0c8" stroke-width="0.3" opacity="0.28" textLength="26" lengthAdjust="spacingAndGlyphs">博革</text><rect x="649.7" y="240.3" width="2.6" height="14.5" fill="#f07070" opacity="0.24"/><path d="M653.5 241.3H659.0Q660.5 241.3 660.5 243.3V251.8Q660.5 253.8 659.0 253.8H653.5M655.5 247.5H659.5" fill="none" stroke="#8c8cc4" stroke-width="2.2" opacity="0.27"/><text x="665.7" y="252.7" class="sans" font-size="12.6" fill="#a0a0c8" stroke="#a0a0c8" stroke-width="0.3" opacity="0.28" textLength="26" lengthAdjust="spacingAndGlyphs">博革</text><rect x="763.0" y="240.3" width="2.6" height="14.5" fill="#f07070" opacity="0.24"/><path d="M766.8 241.3H772.3Q773.8 241.3 773.8 243.3V251.8Q773.8 253.8 772.3 253.8H766.8M768.8 247.5H772.8" fill="none" stroke="#8c8cc4" stroke-width="2.2" opacity="0.27"/><text x="779.0" y="252.7" class="sans" font-size="12.6" fill="#a0a0c8" stroke="#a0a0c8" stroke-width="0.3" opacity="0.28" textLength="26" lengthAdjust="spacingAndGlyphs">博革</text><rect x="-30.1" y="353.7" width="2.6" height="14.5" fill="#f07070" opacity="0.24"/><path d="M-26.3 354.7H-20.8Q-19.3 354.7 -19.3 356.7V365.2Q-19.3 367.2 -20.8 367.2H-26.3M-24.3 360.9H-20.3" fill="none" stroke="#8c8cc4" stroke-width="2.2" opacity="0.27"/><text x="-14.1" y="366.1" class="sans" font-size="12.6" fill="#a0a0c8" stroke="#a0a0c8" stroke-width="0.3" opacity="0.28" textLength="26" lengthAdjust="spacingAndGlyphs">博革</text><rect x="83.2" y="353.7" width="2.6" height="14.5" fill="#f07070" opacity="0.24"/><path d="M87.0 354.7H92.5Q94.0 354.7 94.0 356.7V365.2Q94.0 367.2 92.5 367.2H87.0M89.0 360.9H93.0" fill="none" stroke="#8c8cc4" stroke-width="2.2" opacity="0.27"/><text x="99.2" y="366.1" class="sans" font-size="12.6" fill="#a0a0c8" stroke="#a0a0c8" stroke-width="0.3" opacity="0.28" textLength="26" lengthAdjust="spacingAndGlyphs">博革</text><rect x="196.5" y="353.7" width="2.6" height="14.5" fill="#f07070" opacity="0.24"/><path d="M200.3 354.7H205.8Q207.3 354.7 207.3 356.7V365.2Q207.3 367.2 205.8 367.2H200.3M202.3 360.9H206.3" fill="none" stroke="#8c8cc4" stroke-width="2.2" opacity="0.27"/><text x="212.5" y="366.1" class="sans" font-size="12.6" fill="#a0a0c8" stroke="#a0a0c8" stroke-width="0.3" opacity="0.28" textLength="26" lengthAdjust="spacingAndGlyphs">博革</text><rect x="309.8" y="353.7" width="2.6" height="14.5" fill="#f07070" opacity="0.24"/><path d="M313.6 354.7H319.1Q320.6 354.7 320.6 356.7V365.2Q320.6 367.2 319.1 367.2H313.6M315.6 360.9H319.6" fill="none" stroke="#8c8cc4" stroke-width="2.2" opacity="0.27"/><text x="325.8" y="366.1" class="sans" font-size="12.6" fill="#a0a0c8" stroke="#a0a0c8" stroke-width="0.3" opacity="0.28" textLength="26" lengthAdjust="spacingAndGlyphs">博革</text><rect x="423.1" y="353.7" width="2.6" height="14.5" fill="#f07070" opacity="0.24"/><path d="M426.9 354.7H432.4Q433.9 354.7 433.9 356.7V365.2Q433.9 367.2 432.4 367.2H426.9M428.9 360.9H432.9" fill="none" stroke="#8c8cc4" stroke-width="2.2" opacity="0.27"/><text x="439.1" y="366.1" class="sans" font-size="12.6" fill="#a0a0c8" stroke="#a0a0c8" stroke-width="0.3" opacity="0.28" textLength="26" lengthAdjust="spacingAndGlyphs">博革</text><rect x="536.4" y="353.7" width="2.6" height="14.5" fill="#f07070" opacity="0.24"/><path d="M540.2 354.7H545.7Q547.2 354.7 547.2 356.7V365.2Q547.2 367.2 545.7 367.2H540.2M542.2 360.9H546.2" fill="none" stroke="#8c8cc4" stroke-width="2.2" opacity="0.27"/><text x="552.4" y="366.1" class="sans" font-size="12.6" fill="#a0a0c8" stroke="#a0a0c8" stroke-width="0.3" opacity="0.28" textLength="26" lengthAdjust="spacingAndGlyphs">博革</text><rect x="649.7" y="353.7" width="2.6" height="14.5" fill="#f07070" opacity="0.24"/><path d="M653.5 354.7H659.0Q660.5 354.7 660.5 356.7V365.2Q660.5 367.2 659.0 367.2H653.5M655.5 360.9H659.5" fill="none" stroke="#8c8cc4" stroke-width="2.2" opacity="0.27"/><text x="665.7" y="366.1" class="sans" font-size="12.6" fill="#a0a0c8" stroke="#a0a0c8" stroke-width="0.3" opacity="0.28" textLength="26" lengthAdjust="spacingAndGlyphs">博革</text><rect x="763.0" y="353.7" width="2.6" height="14.5" fill="#f07070" opacity="0.24"/><path d="M766.8 354.7H772.3Q773.8 354.7 773.8 356.7V365.2Q773.8 367.2 772.3 367.2H766.8M768.8 360.9H772.8" fill="none" stroke="#8c8cc4" stroke-width="2.2" opacity="0.27"/><text x="779.0" y="366.1" class="sans" font-size="12.6" fill="#a0a0c8" stroke="#a0a0c8" stroke-width="0.3" opacity="0.28" textLength="26" lengthAdjust="spacingAndGlyphs">博革</text><rect x="-30.1" y="467.1" width="2.6" height="14.5" fill="#f07070" opacity="0.24"/><path d="M-26.3 468.1H-20.8Q-19.3 468.1 -19.3 470.1V478.6Q-19.3 480.6 -20.8 480.6H-26.3M-24.3 474.3H-20.3" fill="none" stroke="#8c8cc4" stroke-width="2.2" opacity="0.27"/><text x="-14.1" y="479.5" class="sans" font-size="12.6" fill="#a0a0c8" stroke="#a0a0c8" stroke-width="0.3" opacity="0.28" textLength="26" lengthAdjust="spacingAndGlyphs">博革</text><rect x="83.2" y="467.1" width="2.6" height="14.5" fill="#f07070" opacity="0.24"/><path d="M87.0 468.1H92.5Q94.0 468.1 94.0 470.1V478.6Q94.0 480.6 92.5 480.6H87.0M89.0 474.3H93.0" fill="none" stroke="#8c8cc4" stroke-width="2.2" opacity="0.27"/><text x="99.2" y="479.5" class="sans" font-size="12.6" fill="#a0a0c8" stroke="#a0a0c8" stroke-width="0.3" opacity="0.28" textLength="26" lengthAdjust="spacingAndGlyphs">博革</text><rect x="196.5" y="467.1" width="2.6" height="14.5" fill="#f07070" opacity="0.24"/><path d="M200.3 468.1H205.8Q207.3 468.1 207.3 470.1V478.6Q207.3 480.6 205.8 480.6H200.3M202.3 474.3H206.3" fill="none" stroke="#8c8cc4" stroke-width="2.2" opacity="0.27"/><text x="212.5" y="479.5" class="sans" font-size="12.6" fill="#a0a0c8" stroke="#a0a0c8" stroke-width="0.3" opacity="0.28" textLength="26" lengthAdjust="spacingAndGlyphs">博革</text><rect x="309.8" y="467.1" width="2.6" height="14.5" fill="#f07070" opacity="0.24"/><path d="M313.6 468.1H319.1Q320.6 468.1 320.6 470.1V478.6Q320.6 480.6 319.1 480.6H313.6M315.6 474.3H319.6" fill="none" stroke="#8c8cc4" stroke-width="2.2" opacity="0.27"/><text x="325.8" y="479.5" class="sans" font-size="12.6" fill="#a0a0c8" stroke="#a0a0c8" stroke-width="0.3" opacity="0.28" textLength="26" lengthAdjust="spacingAndGlyphs">博革</text><rect x="423.1" y="467.1" width="2.6" height="14.5" fill="#f07070" opacity="0.24"/><path d="M426.9 468.1H432.4Q433.9 468.1 433.9 470.1V478.6Q433.9 480.6 432.4 480.6H426.9M428.9 474.3H432.9" fill="none" stroke="#8c8cc4" stroke-width="2.2" opacity="0.27"/><text x="439.1" y="479.5" class="sans" font-size="12.6" fill="#a0a0c8" stroke="#a0a0c8" stroke-width="0.3" opacity="0.28" textLength="26" lengthAdjust="spacingAndGlyphs">博革</text><rect x="536.4" y="467.1" width="2.6" height="14.5" fill="#f07070" opacity="0.24"/><path d="M540.2 468.1H545.7Q547.2 468.1 547.2 470.1V478.6Q547.2 480.6 545.7 480.6H540.2M542.2 474.3H546.2" fill="none" stroke="#8c8cc4" stroke-width="2.2" opacity="0.27"/><text x="552.4" y="479.5" class="sans" font-size="12.6" fill="#a0a0c8" stroke="#a0a0c8" stroke-width="0.3" opacity="0.28" textLength="26" lengthAdjust="spacingAndGlyphs">博革</text><rect x="649.7" y="467.1" width="2.6" height="14.5" fill="#f07070" opacity="0.24"/><path d="M653.5 468.1H659.0Q660.5 468.1 660.5 470.1V478.6Q660.5 480.6 659.0 480.6H653.5M655.5 474.3H659.5" fill="none" stroke="#8c8cc4" stroke-width="2.2" opacity="0.27"/><text x="665.7" y="479.5" class="sans" font-size="12.6" fill="#a0a0c8" stroke="#a0a0c8" stroke-width="0.3" opacity="0.28" textLength="26" lengthAdjust="spacingAndGlyphs">博革</text><rect x="763.0" y="467.1" width="2.6" height="14.5" fill="#f07070" opacity="0.24"/><path d="M766.8 468.1H772.3Q773.8 468.1 773.8 470.1V478.6Q773.8 480.6 772.3 480.6H766.8M768.8 474.3H772.8" fill="none" stroke="#8c8cc4" stroke-width="2.2" opacity="0.27"/><text x="779.0" y="479.5" class="sans" font-size="12.6" fill="#a0a0c8" stroke="#a0a0c8" stroke-width="0.3" opacity="0.28" textLength="26" lengthAdjust="spacingAndGlyphs">博革</text><rect x="-30.1" y="580.5" width="2.6" height="14.5" fill="#f07070" opacity="0.24"/><path d="M-26.3 581.5H-20.8Q-19.3 581.5 -19.3 583.5V592.0Q-19.3 594.0 -20.8 594.0H-26.3M-24.3 587.7H-20.3" fill="none" stroke="#8c8cc4" stroke-width="2.2" opacity="0.27"/><text x="-14.1" y="592.9" class="sans" font-size="12.6" fill="#a0a0c8" stroke="#a0a0c8" stroke-width="0.3" opacity="0.28" textLength="26" lengthAdjust="spacingAndGlyphs">博革</text><rect x="83.2" y="580.5" width="2.6" height="14.5" fill="#f07070" opacity="0.24"/><path d="M87.0 581.5H92.5Q94.0 581.5 94.0 583.5V592.0Q94.0 594.0 92.5 594.0H87.0M89.0 587.7H93.0" fill="none" stroke="#8c8cc4" stroke-width="2.2" opacity="0.27"/><text x="99.2" y="592.9" class="sans" font-size="12.6" fill="#a0a0c8" stroke="#a0a0c8" stroke-width="0.3" opacity="0.28" textLength="26" lengthAdjust="spacingAndGlyphs">博革</text><rect x="196.5" y="580.5" width="2.6" height="14.5" fill="#f07070" opacity="0.24"/><path d="M200.3 581.5H205.8Q207.3 581.5 207.3 583.5V592.0Q207.3 594.0 205.8 594.0H200.3M202.3 587.7H206.3" fill="none" stroke="#8c8cc4" stroke-width="2.2" opacity="0.27"/><text x="212.5" y="592.9" class="sans" font-size="12.6" fill="#a0a0c8" stroke="#a0a0c8" stroke-width="0.3" opacity="0.28" textLength="26" lengthAdjust="spacingAndGlyphs">博革</text><rect x="309.8" y="580.5" width="2.6" height="14.5" fill="#f07070" opacity="0.24"/><path d="M313.6 581.5H319.1Q320.6 581.5 320.6 583.5V592.0Q320.6 594.0 319.1 594.0H313.6M315.6 587.7H319.6" fill="none" stroke="#8c8cc4" stroke-width="2.2" opacity="0.27"/><text x="325.8" y="592.9" class="sans" font-size="12.6" fill="#a0a0c8" stroke="#a0a0c8" stroke-width="0.3" opacity="0.28" textLength="26" lengthAdjust="spacingAndGlyphs">博革</text><rect x="423.1" y="580.5" width="2.6" height="14.5" fill="#f07070" opacity="0.24"/><path d="M426.9 581.5H432.4Q433.9 581.5 433.9 583.5V592.0Q433.9 594.0 432.4 594.0H426.9M428.9 587.7H432.9" fill="none" stroke="#8c8cc4" stroke-width="2.2" opacity="0.27"/><text x="439.1" y="592.9" class="sans" font-size="12.6" fill="#a0a0c8" stroke="#a0a0c8" stroke-width="0.3" opacity="0.28" textLength="26" lengthAdjust="spacingAndGlyphs">博革</text><rect x="536.4" y="580.5" width="2.6" height="14.5" fill="#f07070" opacity="0.24"/><path d="M540.2 581.5H545.7Q547.2 581.5 547.2 583.5V592.0Q547.2 594.0 545.7 594.0H540.2M542.2 587.7H546.2" fill="none" stroke="#8c8cc4" stroke-width="2.2" opacity="0.27"/><text x="552.4" y="592.9" class="sans" font-size="12.6" fill="#a0a0c8" stroke="#a0a0c8" stroke-width="0.3" opacity="0.28" textLength="26" lengthAdjust="spacingAndGlyphs">博革</text><rect x="649.7" y="580.5" width="2.6" height="14.5" fill="#f07070" opacity="0.24"/><path d="M653.5 581.5H659.0Q660.5 581.5 660.5 583.5V592.0Q660.5 594.0 659.0 594.0H653.5M655.5 587.7H659.5" fill="none" stroke="#8c8cc4" stroke-width="2.2" opacity="0.27"/><text x="665.7" y="592.9" class="sans" font-size="12.6" fill="#a0a0c8" stroke="#a0a0c8" stroke-width="0.3" opacity="0.28" textLength="26" lengthAdjust="spacingAndGlyphs">博革</text><rect x="763.0" y="580.5" width="2.6" height="14.5" fill="#f07070" opacity="0.24"/><path d="M766.8 581.5H772.3Q773.8 581.5 773.8 583.5V592.0Q773.8 594.0 772.3 594.0H766.8M768.8 587.7H772.8" fill="none" stroke="#8c8cc4" stroke-width="2.2" opacity="0.27"/><text x="779.0" y="592.9" class="sans" font-size="12.6" fill="#a0a0c8" stroke="#a0a0c8" stroke-width="0.3" opacity="0.28" textLength="26" lengthAdjust="spacingAndGlyphs">博革</text></g>
</svg></body></html>
